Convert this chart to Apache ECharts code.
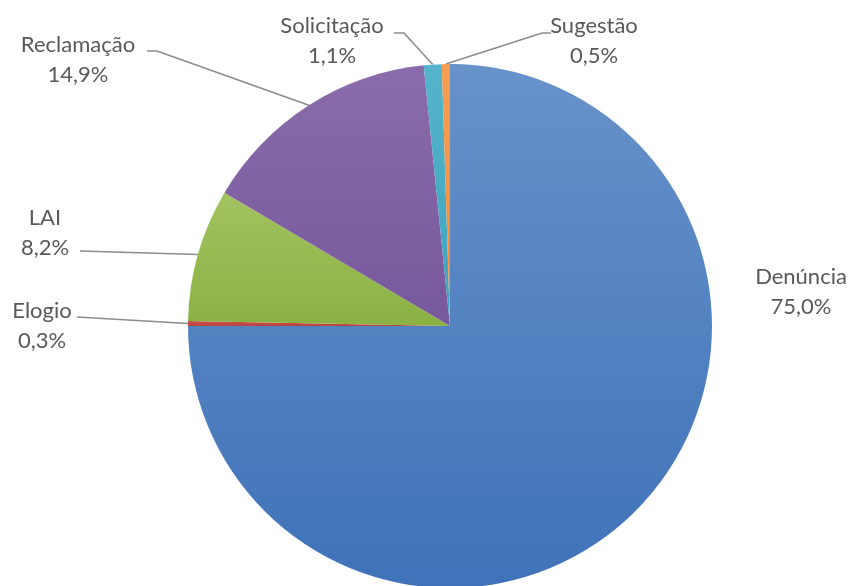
<!DOCTYPE html>
<html><head><meta charset="utf-8">
<script src="https://cdn.jsdelivr.net/npm/echarts@6/dist/echarts.min.js"></script>
<style>html,body{margin:0;padding:0;background:#fff}#c{width:853px;height:586px}</style>
</head><body><div id="c"></div>
<script>
const categories = ['Denúncia', 'Elogio', 'LAI', 'Reclamação', 'Solicitação', 'Sugestão'];
const values = [75.0, 0.3, 8.2, 14.9, 1.1, 0.5];
const percentLabels = ['75,0%', '0,3%', '8,2%', '14,9%', '1,1%', '0,5%'];

const colorsTop = ['#6792ca', '#c9514d', '#a3c360', '#8a6bab', '#55b4cc', '#f79e52'];
const colorsBot = ['#3f72b8', '#b8433f', '#8ab143', '#77589c', '#3fa2be', '#f08a35'];

// label placement (center of label text) and leader-line end points
const labelPlace = [
  {x: 801, y: 292, line: null},
  {x: 42, y: 326, line: [[77, 317]]},
  {x: 45, y: 233, line: [[80, 251]]},
  {x: 78, y: 60, line: [[157, 51], [147, 51]]},
  {x: 332, y: 41, line: [[404, 33], [394, 33]]},
  {x: 594, y: 41, line: [[542, 33], [551, 33]]}
];

const cx = 450, cy = 326, R = 262;
const total = values.reduce((a, b) => a + b, 0);
const anchors = [];
let acc = 0;
values.forEach(v => {
  const mid = (acc + v / 2) / total * Math.PI * 2;
  anchors.push([cx + R * Math.sin(mid), cy - R * Math.cos(mid)]);
  acc += v;
});

const chart = echarts.init(document.getElementById('c'), null, {renderer: 'canvas'});
chart.setOption({
  backgroundColor: '#ffffff',
  animation: false,
  series: [{
    type: 'pie',
    center: [cx, cy],
    radius: R,
    startAngle: 90,
    clockwise: true,
    avoidLabelOverlap: false,
    itemStyle: {borderWidth: 0},
    label: {
      show: true,
      formatter: p => categories[p.dataIndex] + '\n' + percentLabels[p.dataIndex],
      fontFamily: 'Lato',
      fontSize: 22,
      lineHeight: 30,
      color: '#595959',
      align: 'center'
    },
    labelLine: {show: true, lineStyle: {color: '#8c8c8c', width: 1.6}},
    labelLayout: function (params) {
      const i = params.dataIndex;
      const pl = labelPlace[i];
      const res = {x: pl.x, y: pl.y, align: 'center', verticalAlign: 'middle'};
      if (pl.line) res.labelLinePoints = [anchors[i]].concat(pl.line);
      return res;
    },
    data: categories.map((c, i) => ({
      name: c,
      value: values[i],
      itemStyle: {
        color: new echarts.graphic.LinearGradient(0, 0, 0, 1, [
          {offset: 0, color: colorsTop[i]}, {offset: 1, color: colorsBot[i]}
        ])
      },
      labelLine: {show: i !== 0}
    }))
  }]
});
</script></body></html>
